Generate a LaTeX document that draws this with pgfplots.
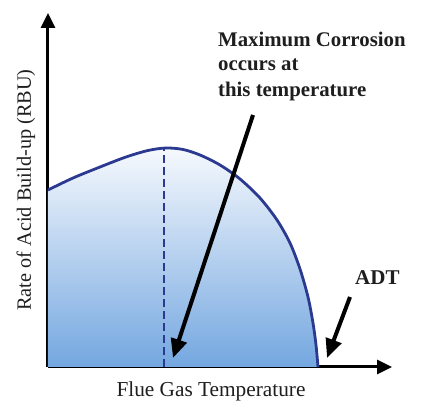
\documentclass[border=0pt]{standalone}
\usepackage{pgfplots}
\pgfplotsset{compat=1.18}
\usepackage{fontspec}
\setmainfont{Liberation Serif}
\usetikzlibrary{arrows.meta}
\definecolor{curve}{HTML}{2B3990}
\definecolor{fillbot}{HTML}{74A7E0}
\definecolor{filltop}{HTML}{F6F9FD}
\definecolor{txt}{HTML}{1E1E1E}
\begin{document}
\begin{tikzpicture}
\begin{axis}[
  scale only axis,
  width=344pt, height=354pt,
  xmin=0, xmax=344, ymin=0, ymax=354,
  axis lines=left,
  axis line style={line width=3pt, black, -{Triangle[length=15pt,width=14pt]}},
  xtick=\empty, ytick=\empty,
  clip=false,
]
\path (axis cs:-48,-33) rectangle (axis cs:374,367);
\addplot[draw=none, top color=filltop, bottom color=fillbot, smooth, tension=0.5]
  coordinates {(0,177) (25,189) (52,200) (78,210) (100,216.5) (118,219) (135,217.5) (152,212) (172,202) (192,188) (212,169) (229,147) (242,124) (252,98) (260,70) (265,44) (268,22) (270,0)} \closedcycle;
\addplot[curve, line width=2.8pt, smooth, tension=0.5]
  coordinates {(0,177) (25,189) (52,200) (78,210) (100,216.5) (118,219) (135,217.5) (152,212) (172,202) (192,188) (212,169) (229,147) (242,124) (252,98) (260,70) (265,44) (268,22) (270,0)};
\addplot[curve, line width=2.6pt, dash pattern=on 8pt off 4pt]
  coordinates {(116,0) (116,219)};
\addplot[black, line width=4pt, -{Triangle[length=19pt,width=16pt]}]
  coordinates {(205,252) (125,9)};
\addplot[black, line width=4pt, -{Triangle[length=19pt,width=16pt]}]
  coordinates {(302,70) (279,9)};
\node[anchor=base west, font=\fontsize{20.8}{24}\selectfont\bfseries, text=txt, inner sep=0pt] at (axis cs:170,320) {Maximum Corrosion};
\node[anchor=base west, font=\fontsize{20.8}{24}\selectfont\bfseries, text=txt, inner sep=0pt] at (axis cs:170,296) {occurs at};
\node[anchor=base west, font=\fontsize{20.8}{24}\selectfont\bfseries, text=txt, inner sep=0pt] at (axis cs:170,270) {this temperature};
\node[anchor=base west, font=\fontsize{21}{24}\selectfont\bfseries, text=txt, inner sep=0pt] at (axis cs:307,82) {ADT};
\node[anchor=base, font=\fontsize{21.3}{24}\selectfont, text=txt, inner sep=0pt] at (axis cs:163,-30) {Flue Gas Temperature};
\node[anchor=base, rotate=90, font=\fontsize{20.3}{24}\selectfont, text=txt, inner sep=0pt] at (axis cs:-17,177) {Rate of Acid Build-up (RBU)};
\end{axis}
\end{tikzpicture}
\end{document}
